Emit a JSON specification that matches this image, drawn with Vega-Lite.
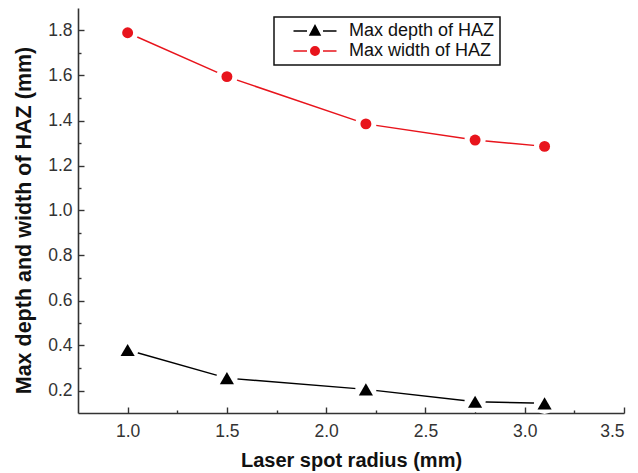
{
  "$schema": "https://vega.github.io/schema/vega-lite/v6.json",
  "width": 546,
  "height": 405,
  "autosize": {"type": "none"},
  "padding": {"left": 78, "top": 8, "right": 14, "bottom": 60},
  "config": {
    "view": {"stroke": null},
    "font": "Liberation Sans",
    "axis": {"zindex": 1, "grid": false, "domainColor": "#333333", "tickColor": "#333333", "domainWidth": 1.6, "tickWidth": 1.4}
  },
  "data": {
    "values": [
      {"series": "Max depth of HAZ", "r": 1.0, "v": 0.38},
      {"series": "Max depth of HAZ", "r": 1.5, "v": 0.255},
      {"series": "Max depth of HAZ", "r": 2.2, "v": 0.205},
      {"series": "Max depth of HAZ", "r": 2.75, "v": 0.15},
      {"series": "Max depth of HAZ", "r": 3.1, "v": 0.143},
      {"series": "Max width of HAZ", "r": 1.0, "v": 1.79},
      {"series": "Max width of HAZ", "r": 1.5, "v": 1.595},
      {"series": "Max width of HAZ", "r": 2.2, "v": 1.385},
      {"series": "Max width of HAZ", "r": 2.75, "v": 1.313},
      {"series": "Max width of HAZ", "r": 3.1, "v": 1.285}
    ]
  },
  "resolve": {"axis": {"x": "independent", "y": "independent"}},
  "layer": [
    {
      "mark": {"type": "line", "strokeWidth": 1.5},
      "encoding": {
        "x": {
          "field": "r", "type": "quantitative",
          "scale": {"domain": [0.75, 3.5], "nice": false, "zero": false},
          "axis": {
            "orient": "bottom", "values": [1, 1.5, 2, 2.5, 3, 3.5], "format": ".1f",
            "ticks": false, "labelPadding": 9, "labelFontSize": 17.5, "labelColor": "#333333",
            "title": "Laser spot radius (mm)", "titleFontSize": 20, "titleFontWeight": "bold",
            "titleColor": "#111111", "titlePadding": 11
          }
        },
        "y": {
          "field": "v", "type": "quantitative",
          "scale": {"domain": [0.1, 1.9], "nice": false, "zero": false},
          "axis": {
            "orient": "left", "values": [0.2, 0.4, 0.6, 0.8, 1.0, 1.2, 1.4, 1.6, 1.8], "format": ".1f",
            "ticks": false, "labelPadding": 6, "labelFontSize": 17.5, "labelColor": "#333333",
            "title": "Max depth and width of HAZ (mm)", "titleFontSize": 21.5, "titleFontWeight": "bold",
            "titleColor": "#111111", "titlePadding": 12, "titleY": 212
          }
        },
        "color": {
          "field": "series", "type": "nominal",
          "scale": {"range": ["#000000", "#e8141c"]},
          "legend": {
            "title": null, "orient": "none", "legendX": 196, "legendY": 9,
            "strokeColor": "#111111", "fillColor": "white",
            "padding": 5, "rowPadding": 2,
            "labelFontSize": 18, "labelColor": "#111111", "labelFont": "Liberation Sans",
            "symbolSize": 100, "symbolOffset": 27, "labelOffset": 25,
            "encode": {
              "legend": {"update": {"strokeWidth": {"value": 1.5}}},
              "symbols": {
                "update": {
                  "shape": {"signal": "datum.value === 'Max depth of HAZ' ? 'M-4.3,0H-1.6M1.6,0H4.3M0,-1.1L1,0.8L-1,0.8Z' : 'M-4.3,0H-1.6M1.6,0H4.3M0.85,0A0.85,0.85,0,1,1,-0.85,0A0.85,0.85,0,1,1,0.85,0'"},
                  "size": {"value": 100},
                  "fill": {"signal": "datum.value === 'Max depth of HAZ' ? '#000000' : '#e8141c'"},
                  "strokeWidth": {"value": 1.5},
                  "opacity": {"value": 1},
                  "fillOpacity": {"value": 1}
                }
              }
            }
          }
        }
      }
    },
    {
      "mark": {"type": "point", "filled": true, "shape": "circle", "fill": "#ffffff", "stroke": null, "opacity": 1, "fillOpacity": 1, "size": 450},
      "encoding": {
        "x": {
          "field": "r", "type": "quantitative",
          "axis": {"orient": "bottom", "values": [1, 1.5, 2, 2.5, 3, 3.5], "labels": false, "domain": false, "tickSize": -6, "title": null}
        },
        "y": {
          "field": "v", "type": "quantitative",
          "axis": {"orient": "left", "values": [0.2, 0.4, 0.6, 0.8, 1.0, 1.2, 1.4, 1.6, 1.8], "labels": false, "domain": false, "tickSize": -6, "title": null}
        }
      }
    },
    {
      "mark": {"type": "point", "filled": true, "opacity": 1},
      "encoding": {
        "x": {
          "field": "r", "type": "quantitative",
          "axis": {"orient": "bottom", "values": [1.25, 1.75, 2.25, 2.75, 3.25], "labels": false, "domain": false, "tickSize": -3, "title": null}
        },
        "y": {
          "field": "v", "type": "quantitative",
          "axis": {"orient": "left", "values": [0.3, 0.5, 0.7, 0.9, 1.1, 1.3, 1.5, 1.7], "labels": false, "domain": false, "tickSize": -3, "title": null}
        },
        "color": {"field": "series", "type": "nominal", "legend": null},
        "shape": {
          "field": "series", "type": "nominal",
          "scale": {"domain": ["Max depth of HAZ", "Max width of HAZ"], "range": ["triangle-up", "circle"]},
          "legend": null
        },
        "size": {
          "field": "series", "type": "nominal",
          "scale": {"domain": ["Max depth of HAZ", "Max width of HAZ"], "range": [200, 120]},
          "legend": null
        }
      }
    }
  ]
}
